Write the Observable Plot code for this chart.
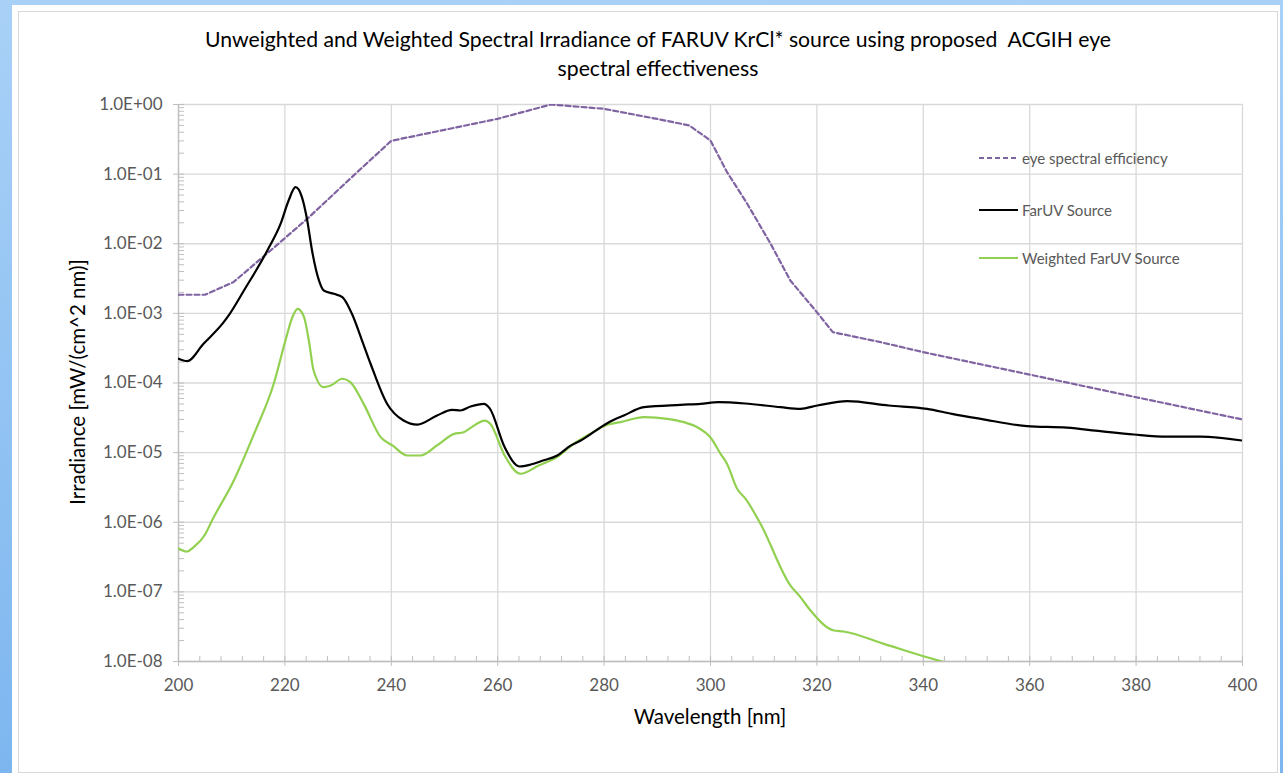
<!DOCTYPE html>
<html>
<head>
<meta charset="utf-8">
<script src="https://cdn.jsdelivr.net/npm/d3@7"></script>
<script src="https://cdn.jsdelivr.net/npm/@observablehq/plot@0.6"></script>
<style>
  html, body { margin: 0; padding: 0; }
  body { width: 1283px; height: 773px; overflow: hidden; position: relative;
         background: linear-gradient(180deg, #a9d1f7 0%, #7db6ef 100%); font-family: Lato, "Open Sans", sans-serif; }
  #page { position: absolute; left: 12px; top: 5px; width: 1268px; height: 770px; background: #fff; }
  #frame { position: absolute; left: 18px; top: 11px; width: 1260px; height: 762px; border: 1px solid #d9d9d9; box-sizing: border-box; }
  #chart { position: absolute; left: 0; top: 0; }
  #title { position: absolute; left: 108px; width: 1100px; top: 25px; text-align: center; font-size: 21.2px; line-height: 29px; color: #000; white-space: pre-wrap; }
  #ylabel { position: absolute; left: 77px; top: 382px; transform: translate(-50%, -50%) rotate(-90deg); font-size: 20.5px; white-space: nowrap; color: #000; }
  #xlabel { position: absolute; left: 710px; top: 716px; transform: translate(-50%, -50%); font-size: 20.5px; white-space: nowrap; color: #000; }
  #legend { position: absolute; left: 978px; top: 0; }
  .leg { position: absolute; left: 0; white-space: nowrap; font-size: 15px; color: #595959; display: flex; align-items: center; transform: translateY(-50%); }
  .leg svg { margin-right: 3px; }
</style>
</head>
<body>
<div id="page"></div>
<div id="frame"></div>
<div id="chart"></div>
<div id="title">Unweighted and Weighted Spectral Irradiance of FARUV KrCl* source using proposed  ACGIH eye<br>spectral effectiveness</div>
<div id="ylabel">Irradiance [mW/(cm^2 nm)]</div>
<div id="xlabel">Wavelength [nm]</div>
<div id="legend"></div>
<script>
// ---------- data ----------
const wavelengthEye = [200, 205, 210.3, 217.3, 224.2, 233.6, 240, 250, 260, 270, 280, 290, 296, 300, 303.1, 306.9, 311.3, 315, 320, 323, 332, 340, 360, 380, 400];
const eyeEfficiency = [1.85e-3, 1.85e-3, 2.8e-3, 8.0e-3, 2.28e-2, 0.107, 0.301, 0.433, 0.623, 1.0, 0.867, 0.62, 0.50, 0.304, 0.107, 0.0375, 0.010, 2.97e-3, 1.04e-3, 5.37e-4, 3.86e-4, 2.77e-4, 1.32e-4, 6.25e-5, 2.99e-5];

const wavelengthSource = [200, 201.6, 204.7, 208.5, 209.2, 212.3, 216.7, 219.2, 220.7, 222.0, 223.2, 224.2, 225.1, 226.4, 227.3, 229.2, 230.8, 232.6, 234.5, 236.1, 239.2, 242.3, 244.9, 248.6, 251.4, 253, 254.9, 257.4, 258.5, 261.3, 264.1, 266.2, 268.5, 271.2, 273.7, 275.6, 280.6, 283.7, 287.5, 294.4, 298.1, 301.5, 306.5, 313.2, 316.9, 320.1, 325.7, 333.5, 340.7, 345.4, 350.8, 359.5, 367, 373.3, 379.6, 385.8, 392.1, 400];
const farUVSource = [2.23e-4, 2.06e-4, 3.66e-4, 7.47e-4, 8.81e-4, 2.13e-3, 8.0e-3, 1.94e-2, 4.18e-2, 6.49e-2, 4.67e-2, 2.16e-2, 8.0e-3, 2.97e-3, 2.13e-3, 1.91e-3, 1.71e-3, 9.86e-4, 4.07e-4, 1.89e-4, 5.03e-5, 2.89e-5, 2.53e-5, 3.41e-5, 4.12e-5, 4.03e-5, 4.59e-5, 5.02e-5, 4.31e-5, 1.20e-5, 6.32e-6, 6.75e-6, 7.7e-6, 9.1e-6, 1.26e-5, 1.49e-5, 2.65e-5, 3.41e-5, 4.49e-5, 4.86e-5, 5.02e-5, 5.30e-5, 5.08e-5, 4.49e-5, 4.26e-5, 4.75e-5, 5.48e-5, 4.75e-5, 4.26e-5, 3.61e-5, 3.06e-5, 2.40e-5, 2.28e-5, 2.03e-5, 1.82e-5, 1.70e-5, 1.70e-5, 1.49e-5];

const wavelengthWeighted = [200, 201.5, 203, 205, 206.3, 210.4, 214.2, 217.9, 220.1, 221.4, 222.4, 223.6, 224.5, 225.4, 227.3, 228.6, 230.8, 232.3, 234.8, 238, 240.2, 243, 245.5, 248.6, 251.8, 253.6, 254.9, 257.6, 258.6, 261.3, 264.3, 267.7, 271.2, 274.3, 277.4, 280.6, 283.1, 287.5, 291.9, 295, 297.5, 300, 301.9, 303.1, 305, 306.6, 309.4, 315, 316.9, 318.8, 323.2, 325, 332.6, 340.7, 343.9];
const weightedSource = [4.2e-7, 3.8e-7, 4.49e-7, 6.67e-7, 1.06e-6, 3.98e-6, 1.86e-5, 9.74e-5, 4.07e-4, 8.81e-4, 1.16e-3, 8.81e-4, 4.07e-4, 1.51e-4, 8.7e-5, 9.2e-5, 1.15e-4, 1.03e-4, 5.02e-5, 1.67e-5, 1.27e-5, 9.1e-6, 9.1e-6, 1.27e-5, 1.86e-5, 1.96e-5, 2.27e-5, 2.89e-5, 2.59e-5, 9.1e-6, 4.97e-6, 6.53e-6, 8.7e-6, 1.34e-5, 1.86e-5, 2.51e-5, 2.74e-5, 3.23e-5, 3.06e-5, 2.74e-5, 2.32e-5, 1.65e-5, 9.6e-6, 6.9e-6, 3.02e-6, 2.17e-6, 9.5e-7, 1.24e-7, 8.4e-8, 5.4e-8, 2.79e-8, 2.70e-8, 1.79e-8, 1.15e-8, 9.8e-9];

const seriesNames = ["eye spectral efficiency", "FarUV Source", "Weighted FarUV Source"];
const seriesColors = ["#8064a2", "#000000", "#92d050"];
const seriesDash = ["5,3", null, null];

const xTicks = [200, 220, 240, 260, 280, 300, 320, 340, 360, 380, 400];
const xTickLabels = ["200", "220", "240", "260", "280", "300", "320", "340", "360", "380", "400"];
const yTicks = [1e-8, 1e-7, 1e-6, 1e-5, 1e-4, 1e-3, 1e-2, 1e-1, 1];
const yTickLabels = ["1.0E-08", "1.0E-07", "1.0E-06", "1.0E-05", "1.0E-04", "1.0E-03", "1.0E-02", "1.0E-01", "1.0E+00"];

// minor ticks
const xMinor = d3.range(200, 400.1, 4);
const yMinor = [];
for (const t of yTicks.slice(0, -1)) for (let m = 2; m <= 9; m++) yMinor.push(t * m);

const axisColor = "#bfbfbf";
const gridColor = "#d9d9d9";
const labelColor = "#595959";

const chart = Plot.plot({
  width: 1283,
  height: 773,
  marginLeft: 178,
  marginRight: 41,
  marginTop: 104,
  marginBottom: 112,
  style: { background: "transparent", fontFamily: "Lato, 'Open Sans', sans-serif", fontSize: "17px" },
  x: { domain: [200, 400] },
  y: { type: "log", domain: [1e-8, 1] },
  marks: [
    Plot.gridY(yTicks, { stroke: gridColor, strokeOpacity: 1, strokeWidth: 1.3 }),
    Plot.gridX(xTicks, { stroke: gridColor, strokeOpacity: 1, strokeWidth: 1.3 }),
    Plot.ruleX([200], { stroke: axisColor, strokeWidth: 1.3 }),
    Plot.ruleY([1e-8], { stroke: axisColor, strokeWidth: 1.3 }),
    // y axis: major ticks outward + labels, minor + major inward
    Plot.axisY(yTicks, { tickSize: 5, tickPadding: 11, stroke: axisColor, fill: labelColor, fontSize: 17,
      tickFormat: (d) => yTickLabels[yTicks.indexOf(d)], label: null }),
    Plot.axisY([...yTicks, ...yMinor], { tickSize: -6, stroke: axisColor, tickFormat: () => "", label: null }),
    // x axis
    Plot.axisX(xTicks, { tickSize: 5, tickPadding: 12, stroke: axisColor, fill: labelColor, fontSize: 17,
      tickFormat: (d) => xTickLabels[xTicks.indexOf(d)], label: null }),
    Plot.axisX(xMinor, { tickSize: -5, stroke: axisColor, tickFormat: () => "", label: null }),
    // series
    Plot.lineY(eyeEfficiency, { x: wavelengthEye, stroke: seriesColors[0], strokeWidth: 2.2, strokeDasharray: seriesDash[0], clip: true }),
    Plot.lineY(weightedSource, { x: wavelengthWeighted, stroke: seriesColors[2], strokeWidth: 2.2, curve: "monotone-x", clip: true }),
    Plot.lineY(farUVSource, { x: wavelengthSource, stroke: seriesColors[1], strokeWidth: 2.2, curve: "monotone-x", clip: true })
  ]
});
document.getElementById("chart").appendChild(chart);

// legend
const legendY = [158, 210, 258];
const legend = document.getElementById("legend");
seriesNames.forEach((name, i) => {
  const row = document.createElement("div");
  row.className = "leg";
  row.style.top = legendY[i] + "px";
  row.innerHTML = `<svg width="41" height="6"><line x1="1" y1="3" x2="40" y2="3" stroke="${seriesColors[i]}" stroke-width="2.2" ${seriesDash[i] ? `stroke-dasharray="${seriesDash[i]}"` : ""}/></svg><span>${name}</span>`;
  legend.appendChild(row);
});
</script>
</body>
</html>
